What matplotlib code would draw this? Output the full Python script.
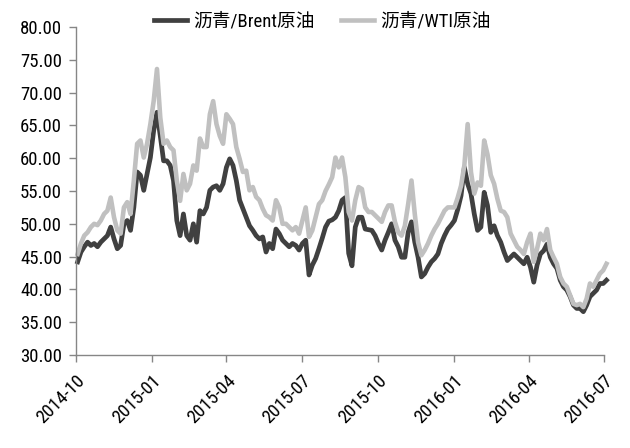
import numpy as np
import pandas as pd
import matplotlib
matplotlib.use("Agg")
import matplotlib.pyplot as plt
from matplotlib.ticker import FormatStrFormatter

# asphalt / crude oil price ratio, sampled every 4 days from 2014-10-03
brent = [44.2, 45.7, 46.5, 47.2, 46.7, 47.0, 46.5, 47.2, 47.7, 48.2,
         49.5, 47.7, 46.2, 46.7, 50.0, 50.5, 49.0, 52.5, 57.9, 57.4,
         55.1, 57.6, 60.1, 64.2, 67.0, 63.4, 59.6, 59.6, 58.9, 56.6,
         50.5, 48.2, 51.5, 48.2, 47.5, 50.0, 47.2, 52.0, 51.5, 52.5,
         55.1, 55.6, 55.8, 55.1, 56.1, 58.6, 59.9, 58.9, 56.6, 53.6,
         52.3, 51.0, 49.7, 49.0, 48.2, 47.7, 48.0, 45.7, 47.0, 46.2,
         49.2, 48.5, 47.5, 47.0, 46.5, 47.0, 46.7, 46.0, 47.0, 47.5,
         42.2, 43.7, 44.7, 46.2, 47.8, 49.5, 50.4, 50.6, 51.0, 52.0,
         53.6, 54.0, 45.5, 43.6, 49.5, 51.0, 51.0, 49.2, 49.1, 49.0,
         48.2, 47.0, 46.0, 47.5, 48.7, 50.0, 47.5, 46.5, 44.9, 44.9,
         48.7, 50.3, 47.2, 44.9, 41.9, 42.4, 43.4, 44.2, 44.7, 45.4,
         47.0, 48.2, 49.2, 49.8, 50.5, 52.2, 54.3, 58.6, 56.1, 54.6,
         51.5, 49.0, 49.5, 54.8, 52.8, 48.7, 49.7, 48.2, 47.2, 45.7,
         44.4, 44.9, 45.4, 44.9, 44.4, 43.9, 44.9, 43.4, 41.1, 43.7,
         45.4, 45.9, 46.9, 44.9, 43.9, 43.2, 41.4, 40.4, 39.9, 38.9,
         37.6, 37.1, 37.1, 36.6, 37.6, 38.9, 39.4, 39.9, 40.9, 40.9,
         41.4]
wti = [45.4, 47.0, 48.2, 48.7, 49.5, 50.0, 49.8, 50.5, 51.5, 52.0,
       54.0, 51.0, 49.0, 48.5, 52.5, 53.3, 51.5, 56.6, 62.2, 62.7,
       60.1, 62.2, 65.2, 68.7, 73.6, 66.2, 62.2, 62.7, 61.7, 61.2,
       56.6, 53.5, 57.6, 55.1, 56.1, 58.9, 58.1, 63.0, 61.7, 61.7,
       66.7, 68.7, 65.2, 63.4, 62.2, 66.7, 66.0, 65.2, 61.7, 59.9,
       57.9, 58.1, 55.1, 55.6, 54.1, 53.6, 52.3, 51.3, 51.0, 50.5,
       53.6, 52.5, 50.0, 50.0, 49.5, 49.0, 49.5, 48.5, 50.5, 52.5,
       48.0, 49.0, 51.0, 53.0, 53.6, 55.0, 56.0, 57.1, 60.1, 58.6,
       60.1, 57.1, 51.8, 50.5, 53.6, 55.6, 55.3, 52.5, 51.8, 51.8,
       51.3, 50.8, 50.3, 51.8, 52.8, 52.8, 50.3, 48.7, 48.2, 49.7,
       53.0, 56.6, 51.5, 47.2, 45.2, 46.0, 47.0, 48.2, 49.2, 50.0,
       51.0, 52.0, 52.5, 52.5, 52.5, 54.0, 55.8, 58.9, 65.2, 57.9,
       54.6, 56.3, 55.8, 62.7, 60.6, 57.4, 56.1, 53.8, 52.0, 51.8,
       51.0, 48.5, 47.5, 46.5, 46.0, 45.4, 47.2, 48.5, 44.2, 46.2,
       48.5, 47.5, 49.2, 46.0, 44.9, 43.9, 41.9, 40.9, 40.4, 39.1,
       37.8, 37.6, 37.8, 37.3, 38.6, 40.9, 40.4, 41.4, 42.4, 42.9,
       43.9]
dates = pd.date_range("2014-10-03", periods=len(brent), freq="4D")

tick_labels = ["2014-10", "2015-01", "2015-04", "2015-07",
               "2015-10", "2016-01", "2016-04", "2016-07"]
tick_dates = pd.to_datetime([t + "-01" for t in tick_labels])
series_names = ["沥青/Brent原油", "沥青/WTI原油"]
colors = ["#404040", "#c0c0c0"]

plt.rcParams["font.family"] = ["Roboto Condensed", "Noto Sans CJK SC", "DejaVu Sans"]

fig = plt.figure(figsize=(6.3, 4.48), dpi=100)
ax = fig.add_axes([76 / 630, 1 - 355 / 448, (604 - 76) / 630, (355 - 27) / 448])

ax.plot(dates, brent, color=colors[0], lw=3.4, label=series_names[0],
        clip_on=False, solid_joinstyle="round")
ax.plot(dates, wti, color=colors[1], lw=3.3, label=series_names[1],
        clip_on=False, solid_joinstyle="round")

ax.set_xlim(tick_dates[0], tick_dates[-1])
ax.set_ylim(30, 80)
ax.set_yticks(np.arange(30, 81, 5))
ax.yaxis.set_major_formatter(FormatStrFormatter("%.2f"))
ax.set_xticks(tick_dates)
ax.set_xticklabels(tick_labels, rotation=45, ha="right", rotation_mode="anchor")

for side in ["top", "right"]:
    ax.spines[side].set_visible(False)
for side in ["left", "bottom"]:
    ax.spines[side].set_color("#868686")
    ax.spines[side].set_linewidth(1.0)
ax.tick_params(axis="both", colors="#868686", labelcolor="black",
               labelsize=13.5, length=5, width=1.0)
ax.tick_params(axis="x", pad=7)
ax.tick_params(axis="y", pad=5)

fig.legend(loc="center", bbox_to_anchor=(322 / 630, 1 - 22 / 448), ncol=2,
           frameon=False, fontsize=13.5, handlelength=1.8, handletextpad=0.3,
           columnspacing=1.4)

fig.savefig("out.png", dpi=100)
